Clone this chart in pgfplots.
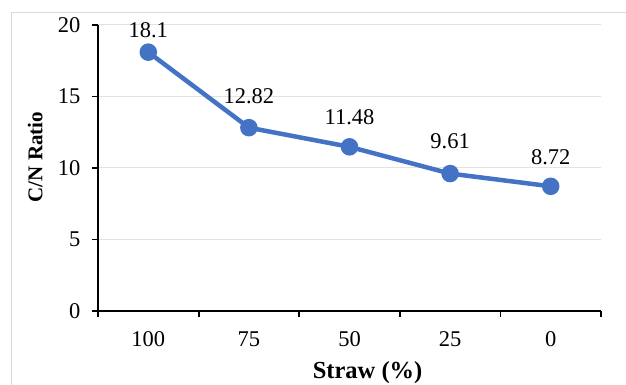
\documentclass[border=0pt]{standalone}
\usepackage{fontspec}
\setmainfont{Liberation Serif}
\usepackage{pgfplots}
\pgfplotsset{compat=1.18}
\definecolor{lineblue}{HTML}{4472C4}
\definecolor{gridgray}{HTML}{E3E3E3}
\definecolor{framegray}{HTML}{D9D9D9}
\begin{document}
\begin{tikzpicture}[x=1pt,y=1pt]
\useasboundingbox (0,0) rectangle (626,385);
\fill[white] (0,0) rectangle (626,385);
\draw[framegray, line width=1.5pt] (11.5,0) -- (11.5,372.5) -- (626,372.5);
\begin{axis}[
  at={(98pt,74pt)}, anchor=south west,
  scale only axis, width=503pt, height=286pt,
  xmin=-0.5, xmax=4.5, ymin=0, ymax=20,
  clip=false,
  axis x line*=bottom, axis y line*=left,
  axis line style={line width=1.8pt, -},
  font=\fontsize{22.5}{27}\selectfont,
  /pgf/number format/assume math mode=true,
  xtick={0,1,2,3,4}, xticklabels={100,75,50,25,0},
  major x tick style={draw=none},
  minor xtick={-0.5,0.5,1.5,2.5,3.5,4.5},
  minor x tick style={line width=1.8pt, black},
  minor tick length=6pt,
  ytick={0,5,10,15,20},
  major y tick style={line width=1.8pt, black},
  major tick length=6pt,
  tick align=outside,
  ymajorgrids, major grid style={gridgray, line width=1pt},
  yticklabel style={xshift=-8pt},
  xticklabel style={anchor=base, yshift=-29pt},
  xlabel={\textbf{Straw (\%)}},
  xlabel style={at={(axis description cs:0.536,0)}, anchor=base, yshift=-67.5pt,
    font=\fontsize{24.5}{29}\selectfont},
  ylabel={\textbf{C/N Ratio}},
  ylabel style={at={(axis description cs:-0.125,0.538)}, anchor=center,
    font=\fontsize{21}{25}\selectfont},
]
\addplot[lineblue, line width=4.5pt, line join=round, mark=*, mark size=6.5pt,
  mark options={solid, fill=lineblue, draw=none}]
  coordinates {(0,18.1) (1,12.82) (2,11.48) (3,9.61) (4,8.72)};
\addplot[draw=none, mark=none, nodes near coords, point meta=explicit symbolic,
  visualization depends on={value \thisrow{dy}\as\dy},
  every node near coord/.append style={anchor=base, yshift=\dy pt, inner sep=0pt}]
  table[x=x, y=y, meta=lab] {
x y lab dy
0 18.1 18.1 15
1 12.82 12.82 24
2 11.48 11.48 22
3 9.61 9.61 25
4 8.72 8.72 22
};
\end{axis}
\end{tikzpicture}
\end{document}
